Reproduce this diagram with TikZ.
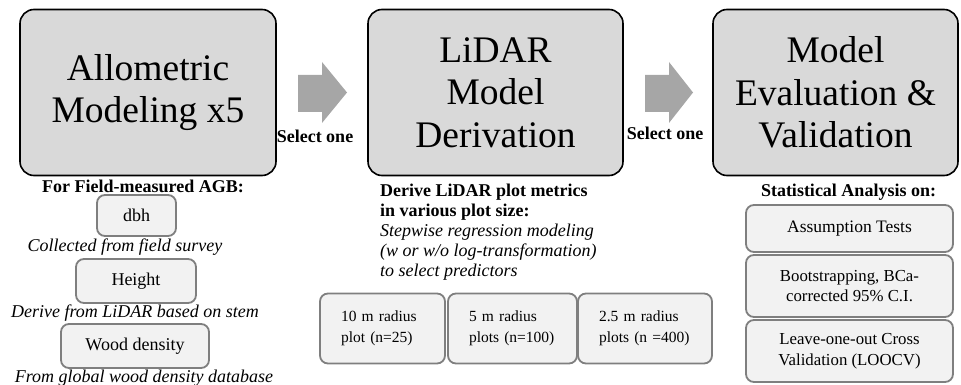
\documentclass[tikz,border=0pt]{standalone}
\usepackage{fontspec}
\setmainfont{Liberation Serif}

\definecolor{stagefill}{HTML}{D9D9D9}
\definecolor{itemfill}{HTML}{F2F2F2}
\definecolor{itemedge}{HTML}{7F7F7F}
\definecolor{arrowgray}{HTML}{A6A6A6}

\tikzset{
  stagebox/.style={draw=black, line width=1.6pt, fill=stagefill, rounded corners=14pt,
    minimum width=#1, minimum height=166pt, align=center, inner sep=0pt,
    font=\fontsize{37.5}{42.5}\selectfont},
  itembox/.style={draw=itemedge, line width=1.8pt, fill=itemfill, rounded corners=8pt,
    align=center, inner sep=0pt},
  plotbox/.style={itembox, align=left, minimum height=70pt, inner xsep=21pt, text width=#1,
    font=\fontsize{15.5}{21}\selectfont},
  heading/.style={inner sep=0pt, font=\fontsize{18}{20}\selectfont\bfseries},
  note/.style={inner sep=0pt, font=\fontsize{18}{20.2}\selectfont\itshape},
}

\begin{document}
\begin{tikzpicture}[x=1pt,y=-1pt]
\useasboundingbox (0,0) rectangle (961,385);

% three stages
\node[stagebox=256pt] (allo) at (148,92.5) {Allometric\\Modeling x5};
\node[stagebox=255pt] (lidar) at (495.5,92.5) {LiDAR\\Model\\Derivation};
\node[stagebox=245pt] (eval) at (835.5,92.5) {Model\\Evaluation \&\\Validation};

% block arrows between stages
\fill[arrowgray] (298,75) -- (322,75) -- (322,62) -- (347,92.5) -- (322,123) -- (322,112) -- (298,112) -- cycle;
\fill[arrowgray] (645,75) -- (669,75) -- (669,62) -- (693,92.5) -- (669,123) -- (669,112) -- (645,112) -- cycle;
\node[heading] (selA) at (315,136) {Select one};
\node[heading] (selB) at (665,133) {Select one};

% field-measured AGB
\node[heading] (agb) at (143,186) {For Field-measured AGB:};
\node[itembox, minimum width=79pt, minimum height=41pt, font=\fontsize{18}{21}\selectfont] (dbh) at (136.5,215.5) {dbh};
\node[note] (dbhnote) at (125,247) {Collected from field survey};
\node[itembox, minimum width=120pt, minimum height=44pt, font=\fontsize{18}{21}\selectfont] (height) at (136,281) {Height};
\node[note] (heightnote) at (135,313) {Derive from LiDAR based on stem};
\node[itembox, minimum width=148pt, minimum height=44pt, font=\fontsize{18}{21}\selectfont] (wood) at (135,346) {Wood density};
\node[note] (woodnote) at (144,378) {From global wood density database};

% LiDAR plot metrics
\node[heading, align=left, anchor=west] (metrics) at (380,202) {Derive LiDAR plot metrics\\in various plot size:};
\node[note, align=left, anchor=west] (stepwise) at (380,252) {Stepwise regression modeling\\(w or w/o log-transformation)\\to select predictors};
\node[plotbox=83pt] (plotA) at (382.5,328.5) {10 m radius\\plot (n=25)};
\node[plotbox=87pt] (plotB) at (512.5,328.5) {5 m radius\\plots (n=100)};
\node[plotbox=92pt] (plotC) at (645,328.5) {2.5 m radius\\plots (n =400)};

% statistical analysis
\node[heading] (stats) at (848.5,192) {Statistical Analysis on:};
\node[itembox, minimum width=207pt, minimum height=47pt, font=\fontsize{17.5}{20.5}\selectfont] (assume) at (849.5,228.5) {Assumption Tests};
\node[itembox, minimum width=207pt, minimum height=62pt, font=\fontsize{16.8}{20.5}\selectfont] (boot) at (849.5,286) {Bootstrapping, BCa-\\corrected 95\% C.I.};
\node[itembox, minimum width=207pt, minimum height=62pt, font=\fontsize{16.8}{20.5}\selectfont] (loocv) at (849.5,351) {Leave-one-out Cross\\Validation (LOOCV)};
\end{tikzpicture}
\end{document}
